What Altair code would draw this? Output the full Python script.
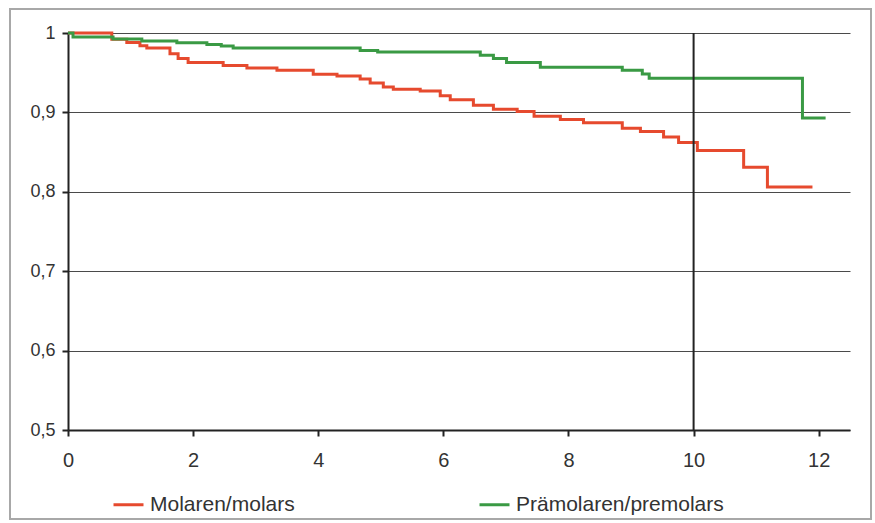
import altair as alt
import pandas as pd

# Molaren/molars (step survival curve)
molar_t = [0, 0.70, 0.94, 1.15, 1.26, 1.63, 1.76, 1.92, 2.48, 2.86, 3.34, 3.92, 4.30, 4.67,
           4.83, 5.04, 5.20, 5.63, 5.95, 6.11, 6.48, 6.80, 7.18, 7.45, 7.87, 8.24, 8.86,
           9.15, 9.52, 9.76, 10.06, 10.80, 11.18, 11.90]
molar_s = [1.0, 0.992, 0.988, 0.984, 0.981, 0.974, 0.968, 0.963, 0.959, 0.956, 0.953, 0.948,
           0.946, 0.942, 0.937, 0.932, 0.929, 0.927, 0.921, 0.916, 0.909, 0.904, 0.901, 0.895,
           0.891, 0.887, 0.880, 0.876, 0.869, 0.862, 0.852, 0.831, 0.806, 0.806]

# Prämolaren/premolars
premolar_t = [0, 0.08, 0.72, 1.18, 1.74, 2.22, 2.45, 2.64, 4.67, 4.95, 6.59, 6.80, 7.01, 7.55,
              8.86, 9.18, 9.29, 11.74, 12.11]
premolar_s = [1.0, 0.995, 0.9925, 0.990, 0.9876, 0.9854, 0.9835, 0.981, 0.978, 0.976, 0.972,
              0.968, 0.963, 0.957, 0.953, 0.9485, 0.943, 0.893, 0.893]

series_names = ["Molaren/molars", "Prämolaren/premolars"]
series_colors = ["#e64a2e", "#3a9a44"]
x_ticks = [0, 2, 4, 6, 8, 10, 12]
y_ticks = [0.5, 0.6, 0.7, 0.8, 0.9, 1.0]
ref_year = [10]

df = pd.concat([
    pd.DataFrame({"t": molar_t, "s": molar_s, "group": series_names[0]}),
    pd.DataFrame({"t": premolar_t, "s": premolar_s, "group": series_names[1]}),
])

FONT = "Liberation Sans, Arial, sans-serif"

x_scale = alt.Scale(domain=[0, 12.5], nice=False, zero=False)
y_scale = alt.Scale(domain=[0.5, 1.0], nice=False, zero=False)

frame = alt.Chart(pd.DataFrame({"a": [0]})).mark_rect(
    fill=None, stroke="#a8a8a8", strokeWidth=2, clip=False
).encode(
    x=alt.value(-58), x2=alt.value(803), y=alt.value(-24), y2=alt.value(486)
)

lines = alt.Chart(df).mark_line(
    interpolate="step-after", strokeWidth=3, clip=False
).encode(
    x=alt.X("t:Q", scale=x_scale, axis=alt.Axis(
        values=x_ticks, format="d", title=None, grid=False, domainColor="#222", domainWidth=2,
        tickColor="#222", tickWidth=2, tickSize=6, labelFontSize=20, labelPadding=14,
        labelColor="#333", labelFont=FONT, labelFlush=False)),
    y=alt.Y("s:Q", scale=y_scale, axis=alt.Axis(
        values=y_ticks, title=None, grid=True, gridColor="#4a4a4a", gridWidth=1.2,
        domainColor="#222", domainWidth=2, tickColor="#222", tickWidth=2, tickSize=6,
        labelFontSize=18, labelPadding=7, labelColor="#333", labelFont=FONT,
        labelExpr="replace(format(datum.value, '.1~f'), '.', ',')", labelFlush=False)),
    color=alt.Color("group:N", scale=alt.Scale(domain=series_names, range=series_colors),
                    legend=alt.Legend(
                        title=None, orient="none", legendX=44, legendY=455,
                        direction="horizontal", symbolType="stroke", symbolStrokeWidth=3,
                        symbolSize=900, labelFontSize=21, labelFont=FONT, labelColor="#333",
                        labelOffset=5, columnPadding=178, labelLimit=400)),
)

rule = alt.Chart(pd.DataFrame({"t": ref_year})).mark_rule(
    color="#222", strokeWidth=2
).encode(x=alt.X("t:Q", scale=x_scale))

chart = alt.layer(frame, lines, rule).properties(
    width=782, height=397,
    autosize=alt.AutoSizeParams(type="none"),
    padding={"left": 68, "top": 33, "right": 25, "bottom": 93},
    background="white",
).configure_view(stroke=None)

chart.save("out.html", embed_options={"renderer": "svg", "actions": False})
